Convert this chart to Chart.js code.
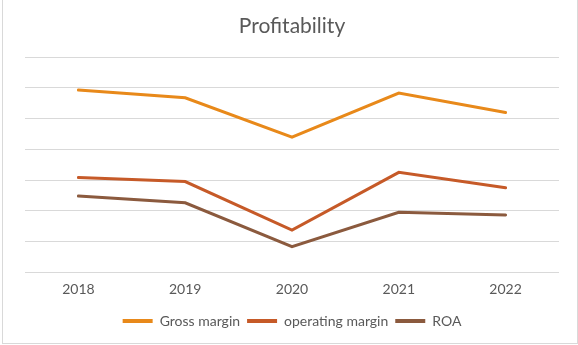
<!DOCTYPE html>
<html>
<head>
<meta charset="utf-8">
<script src="https://cdn.jsdelivr.net/npm/chart.js@4"></script>
<style>
  html, body { margin: 0; padding: 0; background: #fff; }
  #frame {
    position: absolute; left: 2px; top: -1px;
    width: 574px; height: 343px;
    border: 1px solid #d9d9d9;
  }
  #wrap { position: absolute; left: 0; top: 0; width: 578px; height: 345px; }
</style>
</head>
<body>
<div id="frame"></div>
<div id="wrap"><canvas id="profitChart" width="578" height="345"></canvas></div>
<script>
const years = ['2018', '2019', '2020', '2021', '2022'];
const grossMargin = [59.3, 56.8, 44.0, 58.3, 52.0];
const operatingMargin = [30.8, 29.5, 13.7, 32.5, 27.5];
const roa = [24.8, 22.6, 8.3, 19.5, 18.6];

const textColor = '#595959';
const gridColor = '#d9d9d9';

const ctx = document.getElementById('profitChart').getContext('2d');
const profitChart = new Chart(ctx, {
  type: 'line',
  data: {
    labels: years,
    datasets: [
      {
        label: 'Gross margin',
        data: grossMargin,
        borderColor: '#e8891a',
        backgroundColor: '#e8891a',
        borderWidth: 3,
        borderCapStyle: 'round',
        pointRadius: 0,
        fill: false
      },
      {
        label: 'operating margin',
        data: operatingMargin,
        borderColor: '#c65a28',
        backgroundColor: '#c65a28',
        borderWidth: 3,
        borderCapStyle: 'round',
        pointRadius: 0,
        fill: false
      },
      {
        label: 'ROA',
        data: roa,
        borderColor: '#8b5a3e',
        backgroundColor: '#8b5a3e',
        borderWidth: 3,
        borderCapStyle: 'round',
        pointRadius: 0,
        fill: false
      }
    ]
  },
  options: {
    responsive: false,
    animation: false,
    layout: { padding: { left: 25, right: 19, top: 0, bottom: 7 } },
    plugins: {
      title: {
        display: true,
        text: 'Profitability',
        color: textColor,
        font: { family: 'Lato', size: 21, weight: 'normal' },
        padding: { top: 14, bottom: 18 }
      },
      legend: {
        position: 'bottom',
        labels: {
          color: textColor,
          font: { family: 'Lato', size: 14 },
          usePointStyle: true,
          pointStyle: 'line',
          pointStyleWidth: 30,
          boxHeight: 13,
          padding: 7,
          // slightly thicker line swatches than the series lines
          generateLabels(chart) {
            const items = Chart.defaults.plugins.legend.labels.generateLabels(chart);
            items.forEach(item => { item.lineWidth = 4; });
            return items;
          }
        }
      },
      tooltip: { enabled: false }
    },
    scales: {
      x: {
        offset: true,
        grid: { display: false, drawTicks: false },
        border: { display: false },
        ticks: {
          color: textColor,
          font: { family: 'Lato', size: 14 },
          padding: 9
        }
      },
      y: {
        min: 0,
        max: 70,
        ticks: { display: false, stepSize: 10 },
        border: { display: false },
        grid: { color: gridColor, lineWidth: 1, drawTicks: false }
      }
    }
  }
});
</script>
</body>
</html>
